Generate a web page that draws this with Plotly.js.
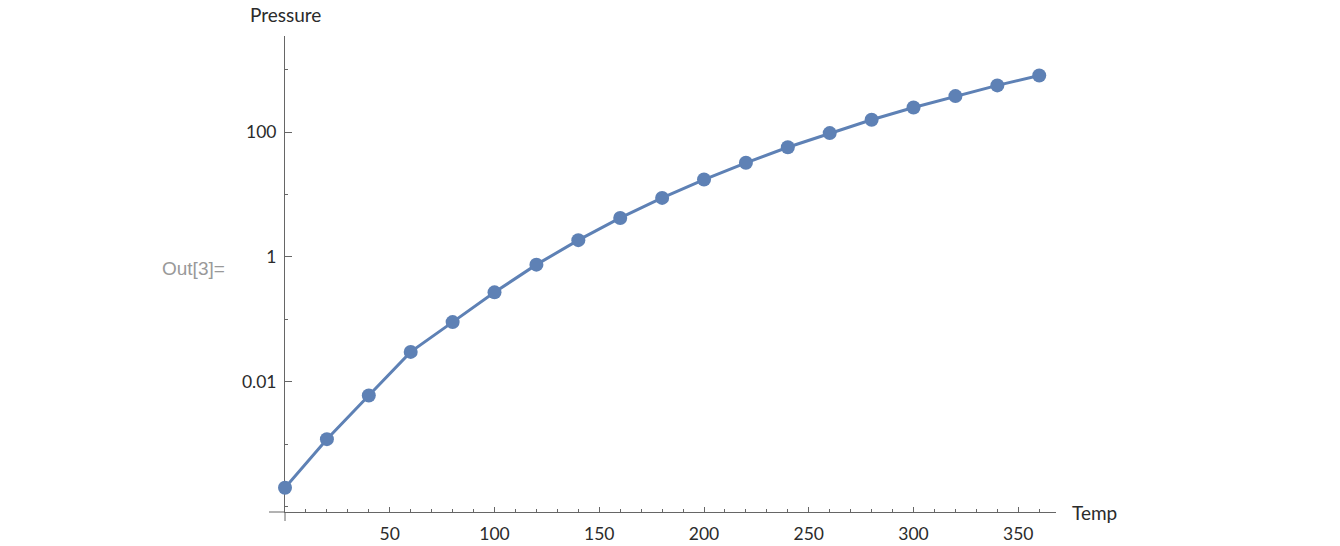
<!DOCTYPE html>
<html>
<head>
<meta charset="utf-8">
<script src="https://cdn.plot.ly/plotly-3.0.1.min.js"></script>
<style>html,body{margin:0;padding:0;background:#fff;} #chart{width:1340px;height:546px;}</style>
</head>
<body>
<div id="chart"></div>
<script>
// R "pressure" dataset
var temperature = [0, 20, 40, 60, 80, 100, 120, 140, 160, 180, 200, 220, 240, 260, 280, 300, 320, 340, 360];
var pressure = [0.0002, 0.0012, 0.0060, 0.0300, 0.0900, 0.270, 0.750, 1.85, 4.20, 8.80, 17.3, 32.1, 57.0, 96.0, 157, 247, 376, 558, 806];
var xTickVals = [50, 100, 150, 200, 250, 300, 350];
var yTickVals = [0.01, 1, 100];
var yTickText = ['0.01', '1', '100'];
var yMinorVals = [0.0001, 0.001, 0.1, 10, 1000];

var plotW = 1340 - 285 - 284;
var plotH = 546 - 36 - 34;
var axisColor = '#666666';
var textFont = {family: 'Lato, "Open Sans", sans-serif', size: 17.5, color: '#2b2b2b'};

var trace = {
  x: temperature,
  y: pressure,
  type: 'scatter',
  mode: 'lines+markers',
  line: {color: '#5E81B5', width: 3},
  marker: {color: '#5E81B5', size: 14},
  cliponaxis: false,
  hoverinfo: 'x+y'
};

var layout = {
  width: 1340,
  height: 546,
  margin: {l: 285, r: 284, t: 36, b: 34},
  paper_bgcolor: '#ffffff',
  plot_bgcolor: '#ffffff',
  showlegend: false,
  xaxis: {
    range: [0, 368],
    tickmode: 'array',
    tickvals: xTickVals,
    ticks: 'inside',
    ticklen: 5,
    tickcolor: axisColor,
    tickfont: textFont,
    ticklabelstandoff: 6,
    showline: true,
    linecolor: axisColor,
    linewidth: 1,
    showgrid: false,
    zeroline: false,
    layer: 'below traces',
    minor: {dtick: 10, tick0: 0, ticks: 'inside', ticklen: 3, tickcolor: axisColor, showgrid: false}
  },
  yaxis: {
    type: 'log',
    range: [-4.088, 3.538],
    tickmode: 'array',
    tickvals: yTickVals,
    ticktext: yTickText,
    ticks: 'inside',
    ticklen: 7,
    tickcolor: axisColor,
    tickfont: textFont,
    ticklabelstandoff: 4,
    showline: true,
    linecolor: axisColor,
    linewidth: 1,
    showgrid: false,
    zeroline: false,
    layer: 'below traces',
    minor: {tickmode: 'array', tickvals: yMinorVals, ticks: 'inside', ticklen: 3, tickcolor: axisColor, showgrid: false}
  },
  shapes: [
    {type: 'line', xref: 'paper', yref: 'paper', x0: -16 / plotW, x1: 0, y0: 0, y1: 0, line: {color: axisColor, width: 1}, layer: 'below'},
    {type: 'line', xref: 'paper', yref: 'paper', x0: 0, x1: 0, y0: -9 / plotH, y1: 0, line: {color: axisColor, width: 1}, layer: 'below'}
  ],
  annotations: [
    {text: 'Pressure', xref: 'paper', yref: 'paper', x: 0, y: 1, xanchor: 'center', yanchor: 'bottom', yshift: 8, showarrow: false,
     font: {family: 'Lato, "Open Sans", sans-serif', size: 19, color: '#2b2b2b'}},
    {text: 'Temp', xref: 'paper', yref: 'paper', x: 1, y: 0, xanchor: 'left', yanchor: 'middle', xshift: 14, yshift: 0, showarrow: false,
     font: {family: 'Lato, "Open Sans", sans-serif', size: 19, color: '#2b2b2b'}},
    {text: 'Out[3]=', xref: 'paper', yref: 'paper', x: 0, y: 0.5, xanchor: 'right', yanchor: 'middle', xshift: -58, yshift: 6, showarrow: false,
     font: {family: '"Liberation Sans", Arial, sans-serif', size: 19, color: '#999999'}}
  ]
};

Plotly.newPlot('chart', [trace], layout, {displayModeBar: false, staticPlot: true});
</script>
</body>
</html>
